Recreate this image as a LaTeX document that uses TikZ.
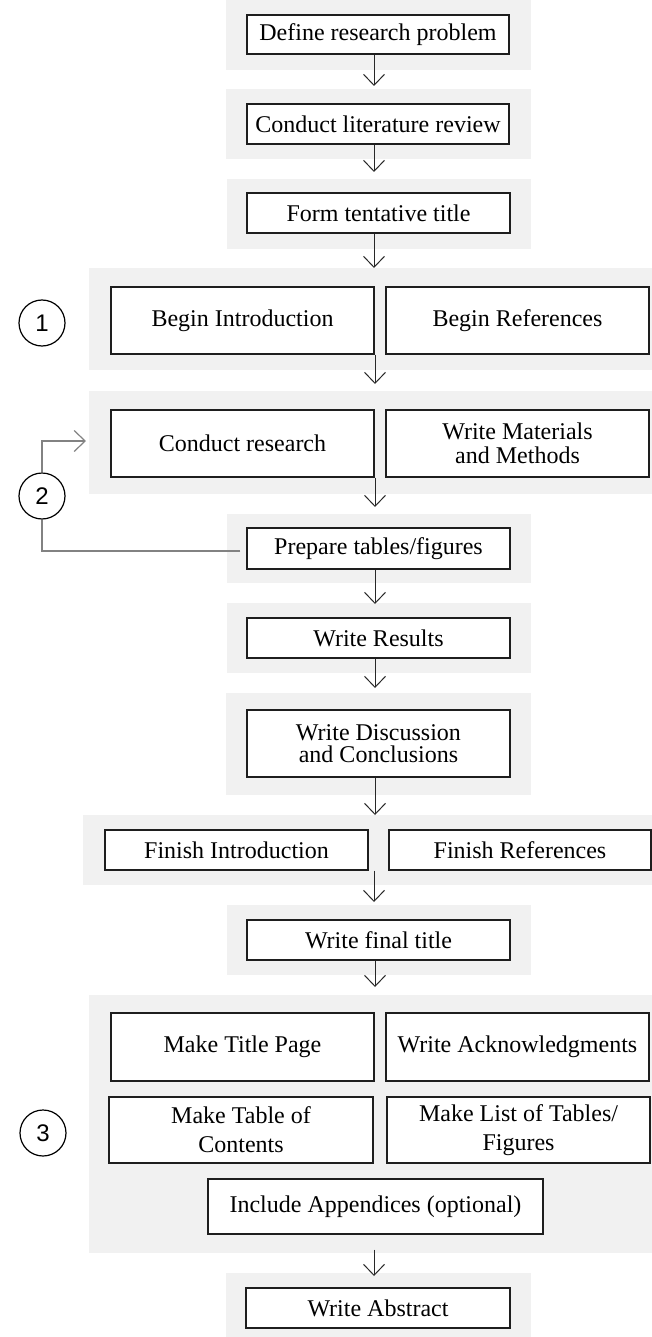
\documentclass[tikz,border=0pt]{standalone}
\usepackage{fontspec}
\setmainfont{Liberation Serif}
\newfontfamily\numfont{Liberation Sans}
\usetikzlibrary{arrows.meta}
\definecolor{panelgray}{RGB}{241,241,241}
\definecolor{boxline}{RGB}{30,30,30}
\definecolor{loopclr}{RGB}{130,130,130}
\definecolor{arrowclr}{RGB}{40,40,40}
\begin{document}
\begin{tikzpicture}[x=1pt,y=-1pt,
  panel/.style={fill=panelgray},
  stepbox/.style={draw=boxline, line width=1.2pt, fill=white, align=center, inner sep=0pt,
    minimum width=263pt, font=\fontsize{24}{24}\selectfont},
  flowarrow/.style={draw=arrowclr, line width=1pt, -{Straight Barb[length=11pt,width=21pt]}},
  loopline/.style={draw=loopclr, line width=1.2pt},
  numcircle/.style={circle, draw=black, line width=1.2pt, minimum size=46pt, inner sep=0pt,
    font=\numfont\fontsize{24}{24}\selectfont}]
\useasboundingbox (0,0) rectangle (652,1337);
% panels
\fill[panel] (226,0) rectangle (531,70);
\fill[panel] (226,89) rectangle (531,159);
\fill[panel] (227,179) rectangle (531,249);
\fill[panel] (89,268) rectangle (652,370);
\fill[panel] (89,391) rectangle (652,494);
\fill[panel] (227,514) rectangle (531,583);
\fill[panel] (227,603) rectangle (531,673);
\fill[panel] (226,693) rectangle (531,795);
\fill[panel] (83,815) rectangle (652,885);
\fill[panel] (227,905) rectangle (531,975);
\fill[panel] (89,995) rectangle (652,1253);
\fill[panel] (226,1273) rectangle (531,1337);
% boxes
\node[stepbox, minimum width=262pt, minimum height=39pt] (def) at (378,34.5) {Define research problem};
\node[stepbox, minimum width=262pt, minimum height=40pt] (lit) at (378,124) {Conduct literature review};
\node[stepbox, minimum height=40pt] (form) at (378.5,213) {Form tentative title};
\node[stepbox, minimum height=67pt] (bintro) at (242.5,320.5) {Begin Introduction};
\node[stepbox, minimum height=67pt] (bref) at (517.5,320.5) {Begin References};
\node[stepbox, minimum height=67pt] (cres) at (242.5,443.5) {Conduct research};
\node[stepbox, minimum height=67pt] (wmm) at (517.5,443.5) {Write Materials\\and Methods};
\node[stepbox, minimum height=41pt] (prep) at (378.5,548.5) {Prepare tables/figures};
\node[stepbox, minimum height=40pt] (wres) at (378.5,638) {Write Results};
\node[stepbox, minimum height=67pt] (wdc) at (378.5,743.5) {Write Discussion\\[-2pt]and Conclusions};
\node[stepbox, minimum height=40pt] (fintro) at (236.5,850) {Finish Introduction};
\node[stepbox, minimum width=262pt, minimum height=40pt] (fref) at (520,850) {Finish References};
\node[stepbox, minimum height=40pt] (wft) at (378.5,940) {Write final title};
\node[stepbox, minimum height=68pt] (mtp) at (242.5,1047) {Make Title Page};
\node[stepbox, minimum height=68pt] (wack) at (517.5,1047) {Write Acknowledgments};
\node[stepbox, minimum width=264pt, minimum height=66pt] (mtoc) at (241,1130) {Make Table of\\[5pt]Contents};
\node[stepbox, minimum height=66pt] (mlot) at (518.5,1130) {Make List of Tables/\\[5pt]Figures};
\node[stepbox, minimum width=335pt, minimum height=55pt] (app) at (375.5,1206.5) {Include Appendices (optional)};
\node[stepbox, minimum width=264pt, minimum height=40pt] (abs) at (378,1308) {Write Abstract};
% numbered circles
\node[numcircle] (c1) at (42,323) {1};
\node[numcircle] (c2) at (42,496) {2};
\node[numcircle] (c3) at (43,1133) {3};
% arrow end points
\coordinate (a1) at (374,86);
\coordinate (a2) at (374,172);
\coordinate (a3) at (374,268);
\coordinate (a4) at (375,384);
\coordinate (a5) at (375,507);
\coordinate (a6) at (375,604);
\coordinate (a7) at (375,688);
\coordinate (a8) at (375,815);
\coordinate (a9) at (374,902);
\coordinate (a10) at (375,987);
\coordinate (a11) at (374,1276);
\draw[flowarrow] (def.south -| a1) -- (a1);
\draw[flowarrow] (lit.south -| a2) -- (a2);
\draw[flowarrow] (form.south -| a3) -- (a3);
\draw[flowarrow] (bintro.south -| a4) -- (a4);
\draw[flowarrow] (cres.south -| a5) -- (a5);
\draw[flowarrow] (prep.south -| a6) -- (a6);
\draw[flowarrow] (wres.south -| a7) -- (a7);
\draw[flowarrow] (wdc.south -| a8) -- (a8);
\draw[flowarrow] (fintro.south -| a9) -- (a9);
\draw[flowarrow] (wft.south -| a10) -- (a10);
\draw[flowarrow] ([yshift=-15pt]app.south -| a11) -- (a11);
% loop
\coordinate (loopend) at (86,441);
\draw[loopline] ([xshift=-6pt,yshift=-2.5pt]prep.west) -| (c2.south);
\draw[loopline, -{Straight Barb[length=11pt,width=21pt]}] (c2.north) |- (loopend);
\end{tikzpicture}
\end{document}
